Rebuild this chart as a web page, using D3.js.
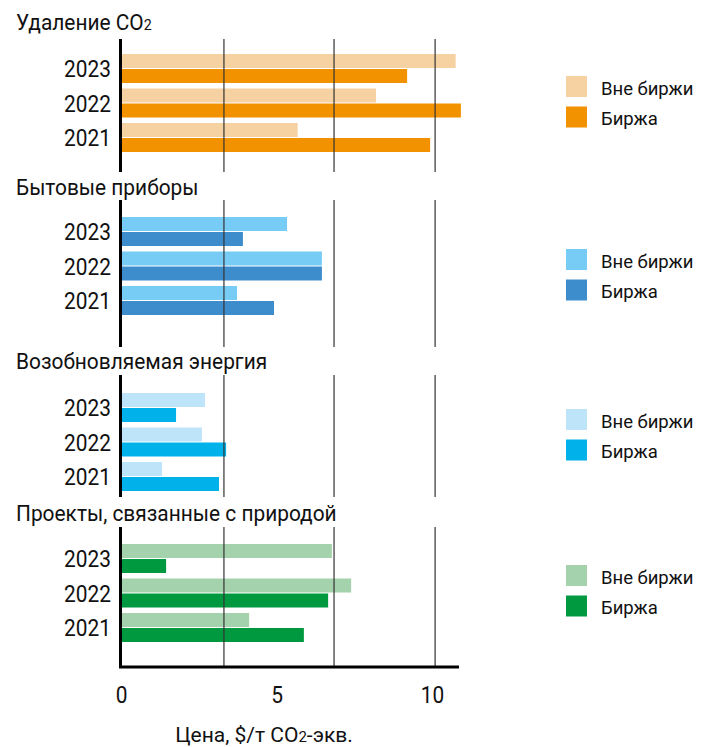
<!DOCTYPE html>
<html>
<head>
<meta charset="utf-8">
<script src="https://cdn.jsdelivr.net/npm/d3@7"></script>
<style>
  html, body { margin: 0; padding: 0; background: #fff; }
  svg { display: block; font-family: Roboto, "Noto Sans", sans-serif; }
</style>
</head>
<body>
<svg id="chart" width="707" height="747"></svg>
<script>
// ---- data ----
const years = ["2023", "2022", "2021"];
const panelTitles = ["Удаление CO", "Бытовые приборы", "Возобновляемая энергия", "Проекты, связанные с природой"];
const seriesNames = ["Вне биржи", "Биржа"];
const offExchange = [
  [10.76, 8.20, 5.68],
  [5.34, 6.46, 3.73],
  [2.70, 2.60, 1.32],
  [6.78, 7.40, 4.12]
];
const exchange = [
  [9.20, 10.93, 9.94],
  [3.92, 6.46, 4.92],
  [1.77, 3.38, 3.15],
  [1.45, 6.66, 5.88]
];
const xTicks = [0, 5, 10];
const gridValues = [3.31, 6.85, 10.1];
const lightColors = ["#F6D1A1", "#76CCF4", "#BDE4F9", "#A4D2AC"];
const darkColors = ["#F29200", "#3D8CCB", "#00B1EA", "#00993F"];

// ---- layout ----
const layout = [
  { titleY: 30,  lineTop: 39,  lineBottom: 172, barTop: 54,  legendTop: 76 },
  { titleY: 195, lineTop: 200, lineBottom: 347, barTop: 217, legendTop: 249 },
  { titleY: 369, lineTop: 375, lineBottom: 497, barTop: 393, legendTop: 409 },
  { titleY: 521, lineTop: 527, lineBottom: 667, barTop: 544, legendTop: 565 }
];
const condense = 0.87;

const svg = d3.select("#chart");
const x = d3.scaleLinear().domain([0, 10]).range([121, 432]);
const axisRight = 459;

panelTitles.forEach((title, i) => {
  const L = layout[i];
  const g = svg.append("g");

  // title
  const t = g.append("text")
    .attr("transform", `translate(16,${L.titleY}) scale(0.95,1)`)
    .attr("font-size", 22).attr("fill", "#111")
    .text(title);
  if (i === 0) {
    t.append("tspan").attr("font-size", 15).text("2");
  }

  const y = d3.scaleBand().domain(years)
    .range([L.barTop, L.barTop + 98]).paddingInner(5.5 / 34.5).paddingOuter(0);
  const ys = d3.scaleBand().domain(seriesNames)
    .range([0, y.bandwidth()]).paddingInner(1 / 15);

  const rows = years.map((yr, j) => ({ yr, vals: [offExchange[i][j], exchange[i][j]] }));
  const grp = g.selectAll("g.row").data(rows).join("g")
    .attr("class", "row")
    .attr("transform", d => `translate(0,${y(d.yr)})`);
  grp.selectAll("rect").data(d => d.vals.map((v, k) => ({ v, k }))).join("rect")
    .attr("x", x(0))
    .attr("y", d => ys(seriesNames[d.k]))
    .attr("width", d => x(d.v) - x(0))
    .attr("height", ys.bandwidth())
    .attr("fill", d => d.k === 0 ? lightColors[i] : darkColors[i]);

  // grid lines (on top of bars)
  g.selectAll("line.grid").data(gridValues).join("line")
    .attr("class", "grid")
    .attr("x1", d => x(d)).attr("x2", d => x(d))
    .attr("y1", L.lineTop).attr("y2", L.lineBottom)
    .attr("stroke", "#333").attr("stroke-width", 1.2);

  // left axis line
  g.append("line")
    .attr("x1", 120.5).attr("x2", 120.5)
    .attr("y1", L.lineTop).attr("y2", L.lineBottom)
    .attr("stroke", "#000").attr("stroke-width", 3);

  // year labels
  g.selectAll("text.yr").data(years).join("text")
    .attr("class", "yr")
    .attr("transform", d => `translate(111,${y(d) + y.bandwidth() / 2}) scale(${condense},1)`)
    .attr("dy", "0.355em")
    .attr("text-anchor", "end")
    .attr("font-size", 24).attr("fill", "#111")
    .text(d => d);

  // legend
  const lg = g.selectAll("g.lg").data(seriesNames).join("g")
    .attr("class", "lg")
    .attr("transform", (d, k) => `translate(566,${L.legendTop + k * 30.5})`);
  lg.append("rect").attr("width", 21).attr("height", 21)
    .attr("fill", (d, k) => k === 0 ? lightColors[i] : darkColors[i]);
  lg.append("text").attr("x", 35).attr("y", 18.5)
    .attr("font-size", 18.5).attr("fill", "#111")
    .text(d => d);
});

// bottom axis
const xAxis = d3.axisBottom(x).tickValues(xTicks).tickSize(0).tickPadding(0);
const ax = svg.append("g").attr("transform", "translate(0,667)").call(xAxis);
ax.select(".domain").remove();
ax.selectAll(".tick text")
  .attr("y", 0).attr("dy", 0)
  .attr("transform", `translate(0,36) scale(${condense},1)`)
  .attr("font-size", 24).attr("fill", "#111")
  .attr("font-family", "Roboto, sans-serif");
svg.append("line")
  .attr("x1", 119).attr("x2", axisRight)
  .attr("y1", 667).attr("y2", 667)
  .attr("stroke", "#000").attr("stroke-width", 3);

// axis title
const at = svg.append("text")
  .attr("transform", "translate(264,742)")
  .attr("text-anchor", "middle")
  .attr("font-size", 21).attr("fill", "#111")
  .text("Цена, $/т CO");
at.append("tspan").attr("font-size", 15).text("2");
at.append("tspan").text("-экв.");
</script>
</body>
</html>
